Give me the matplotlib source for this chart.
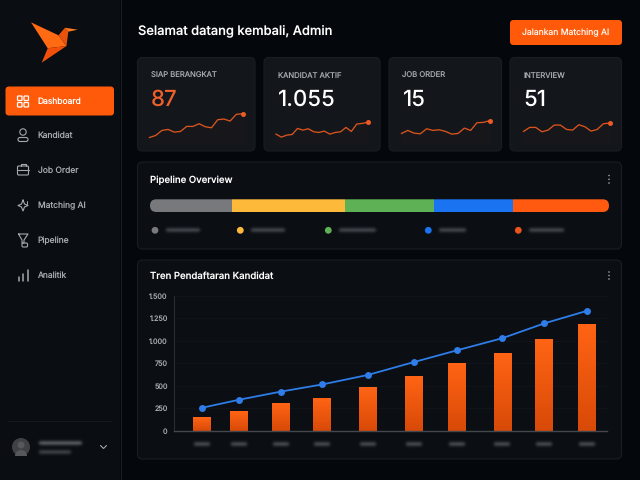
import numpy as np
import matplotlib
matplotlib.use("Agg")
import matplotlib.pyplot as plt
from matplotlib.colors import to_rgb
from matplotlib.patches import FancyBboxPatch, Polygon, Circle, Rectangle, Wedge

plt.rcParams['font.family'] = ['Inter', 'DejaVu Sans']
plt.rcParams['text.hinting'] = 'none'
plt.rcParams['text.hinting_factor'] = 1

# ---- data ----
nav_labels = ["Dashboard", "Kandidat", "Job Order", "Matching AI", "Pipeline", "Analitik"]
kpi_labels = ["SIAP BERANGKAT", "KANDIDAT AKTIF", "JOB ORDER", "INTERVIEW"]
kpi_values = ["87", "1.055", "15", "51"]
spark_1 = [18, 24, 39, 42, 34, 36, 51, 51, 59, 50, 47, 71, 73, 67, 87, 89]
spark_2 = [28, 19, 25, 27, 45, 40, 44, 35, 33, 37, 28, 33, 35, 48, 36, 58, 60, 63]
spark_3 = [30, 39, 31, 29, 44, 39, 41, 36, 28, 30, 46, 39, 62, 63, 68]
spark_4 = [36, 48, 48, 35, 40, 55, 55, 42, 40, 56, 50, 37, 42, 59, 61]
pipeline_shares = [17.8, 24.7, 19.4, 17.2, 20.9]
pipeline_colors = ["#77797d", "#fdb93a", "#5fb155", "#1a74f2", "#ff5a0f"]
month_pos = [0, 0.87, 1.84, 2.81, 3.87, 4.96, 5.96, 7.02, 8.0, 9]
bar_values = [150, 220, 305, 365, 480, 605, 750, 865, 1015, 1185]
line_values = [255, 345, 435, 515, 620, 765, 895, 1030, 1195, 1335]
y_ticks = [0, 250, 500, 750, 1000, 1250, 1500]
y_tick_labels = ["0", "250", "500", "750", "1.000", "1.250", "1.500"]

BG = "#04070b"
SIDE = "#0a0d12"
CARD = "#13161b"
PANEL = "#0b0e13"
EDGE = "#1a1d22"
ORANGE = "#ff5a0a"
W, H = 640, 480

fig = plt.figure(figsize=(6.4, 4.8), dpi=100, facecolor=BG)
bg = fig.add_axes([0, 0, 1, 1], zorder=0)
bg.set_xlim(0, W)
bg.set_ylim(H, 0)
bg.set_autoscale_on(False)
bg.axis("off")


def axes_px(x0, y0, x1, y1, z=2):
    a = fig.add_axes([x0 / W, 1 - y1 / H, (x1 - x0) / W, (y1 - y0) / H], zorder=z)
    a.patch.set_alpha(0)
    return a


def rbox(x0, y0, x1, y1, r, fc, ec="none", lw=0.8, z=1):
    p = FancyBboxPatch((x0 + r, y0 + r), x1 - x0 - 2 * r, y1 - y0 - 2 * r,
                       boxstyle=f"round,pad={r},rounding_size={r}",
                       fc=fc, ec=ec, lw=lw, zorder=z)
    bg.add_patch(p)
    return p


def blur(x0, x1, y, color="#8a8d92", a=0.5, sig=1.8):
    # soft smudge standing in for the blurred-out labels of the reference
    pad = 5
    nx, ny = int((x1 - x0 + 2 * pad) * 2), 28
    xs = np.linspace(x0 - pad, x1 + pad, nx)
    ys = np.linspace(y - 6, y + 6, ny)
    gx = 0.5 * (np.tanh((xs - x0) / sig) - np.tanh((xs - x1) / sig))
    gy = np.exp(-((ys - y) ** 2) / (2 * sig ** 2))
    img = np.zeros((ny, nx, 4))
    img[..., :3] = to_rgb(color)
    img[..., 3] = a * np.outer(gy, gx)
    bg.imshow(img, extent=(x0 - pad, x1 + pad, y + 6, y - 6), origin="upper", aspect="auto",
              zorder=5, interpolation="bilinear")


def ln(xs, ys, c, lw=0.9):
    bg.plot(xs, ys, color=c, lw=lw, solid_capstyle="round", solid_joinstyle="round", zorder=6)


# sidebar
bg.add_patch(Rectangle((0, 0), 120, H, fc=SIDE, ec="none", zorder=1))
bg.plot([120.5, 120.5], [0, H], color="#191c21", lw=0.8, zorder=2)

# logo
bg.add_patch(Polygon([(31, 22.3), (58.5, 35.3), (66.5, 46), (47.7, 48.3)], fc="#ff6a13", ec="none", zorder=3))
bg.add_patch(Polygon([(47.7, 48.3), (66.5, 46), (41.7, 62.7)], fc="#f2500a", ec="none", zorder=3))
bg.add_patch(Polygon([(58.5, 35.3), (65, 27.7), (68.3, 31.7), (66.5, 46)], fc="#e9520c", ec="none", zorder=3))
bg.add_patch(Polygon([(65, 27.7), (77.7, 29.7), (68.3, 31.7)], fc="#ff7a1c", ec="none", zorder=3))

# nav
rbox(5.5, 86.5, 114, 115.5, 3.5, ORANGE, z=2)
nav_y = [101.5, 135.8, 170.5, 206, 240.8, 275.8]
for i, (lab, y) in enumerate(zip(nav_labels, nav_y)):
    bg.text(37.5, y, lab, color="#ffffff" if i == 0 else "#a5a8ae", fontsize=6.1,
            va="center", ha="left", zorder=6)
# dashboard icon
for xx, yy in [(17.5, 96), (24, 96), (17.5, 102.5), (24, 102.5)]:
    rbox(xx, yy, xx + 4.5, yy + 4.5, 0.8, "none", ec="#ffffff", lw=0.9, z=6)
c = "#a5a8ae"
# person
bg.add_patch(Circle((23, 132), 3.2, fc="none", ec=c, lw=0.8, zorder=6))
rbox(18, 137.5, 28, 141.5, 2, "none", ec=c, lw=0.8, z=6)
# briefcase
rbox(17.5, 166, 28.5, 175, 1.2, "none", ec=c, lw=0.8, z=6)
ln([20.5, 20.5, 25.5, 25.5], [166, 163.5, 163.5, 166], c, 0.8)
ln([17.5, 28.5], [170, 170], c, 0.8)
# sparkle
ln([23, 24.5, 28, 24.5, 23, 21.5, 18, 21.5, 23], [200, 204, 205.5, 207, 211, 207, 205.5, 204, 200], c, 0.8)
ln([27, 27], [201, 204], c, 0.7)
# funnel
ln([18.5, 28, 24, 24, 22, 22, 18.5], [234, 234, 240, 243, 243, 240, 234], c, 0.8)
rbox(22, 243, 27.5, 247, 1.2, "none", ec=c, lw=0.8, z=6)
# bars
for xx, y0 in [(18.5, 277), (23, 274), (27.5, 270)]:
    ln([xx, xx], [281, y0], c, 1.1)

# footer
bg.plot([8, 112], [420.5, 420.5], color="#16191e", lw=0.7, zorder=2)
bg.add_patch(Circle((21, 447), 9, fc="#3f4144", ec="none", zorder=3))
bg.add_patch(Circle((21, 445), 3.5, fc="#56585b", ec="none", zorder=4))
bg.add_patch(Wedge((21, 456), 6, 180, 360, fc="#56585b", ec="none", zorder=4))
blur(39, 82, 443.5, "#9a9da2")
blur(39, 71, 452.5, "#6a6d72")
ln([100.5, 103.5, 106.5], [445.5, 448.5, 445.5], "#a0a3a8", 0.8)

# header
bg.text(138, 31, "Selamat datang kembali, Admin", color="#ffffff", fontsize=9.3,
        fontweight="medium", va="center", ha="left", zorder=6)
rbox(510, 20, 622, 45, 3.5, ORANGE, z=2)
bg.text(566, 33, "Jalankan Matching AI", color="#fff4ec", fontsize=6.2, va="center", ha="center", zorder=6)

# KPI cards
cards = [(137.5, 255), (264, 380), (389, 501.5), (510, 621.5)]
spark_span = [(149.5, 242.5), (276, 367.5), (401.5, 489.5), (523.5, 609.5)]
sparks = [spark_1, spark_2, spark_3, spark_4]
for i, ((x0, x1), (sx0, sx1), s) in enumerate(zip(cards, spark_span, sparks)):
    rbox(x0, 57.5, x1, 151, 5, CARD, ec=EDGE, z=2)
    bg.text(x0 + 13.5, 75.8, kpi_labels[i], color="#a5a8ae", fontsize=5.5, va="center", ha="left", zorder=6)
    bg.text(x0 + 13.5, 100, kpi_values[i], color="#f0602a" if i == 0 else "#ffffff", fontsize=16,
            fontweight="medium", va="center", ha="left", zorder=6)
    a = axes_px(sx0, 110, sx1, 143.5)
    a.set_xlim(0, len(s) - 1)
    a.set_ylim(0, 100)
    a.axis("off")
    xs = np.arange(len(s))
    a.fill_between(xs, 0, s, color="#e0561f", alpha=0.02, lw=0)
    a.plot(xs, s, color="#d9541e", lw=0.95, solid_joinstyle="round", clip_on=False)
    a.plot(xs[-1], s[-1], "o", color="#ee5a24", ms=3.6, mew=0, clip_on=False)

# pipeline panel
rbox(137.5, 162, 621.5, 249, 5, PANEL, ec=EDGE, z=2)
bg.text(150, 180, "Pipeline Overview", color="#ffffff", fontsize=6.9, fontweight="medium",
        va="center", ha="left", zorder=6)
for yy in (175.5, 179.3, 183):
    bg.add_patch(Circle((609, yy), 0.8, fc="#a0a3a8", ec="none", zorder=6))
pa = axes_px(150, 199.3, 609, 212)
pa.set_xlim(0, sum(pipeline_shares))
pa.set_ylim(0, 1)
pa.axis("off")
left = 0
clip = FancyBboxPatch((150 + 6.3, 199.3 + 6.3), 459 - 12.6, 0.1,
                      boxstyle="round,pad=6.3,rounding_size=6.3", transform=bg.transData,
                      fc="none", ec="none")
bg.add_patch(clip)
for sh, col in zip(pipeline_shares, pipeline_colors):
    b = pa.barh(0.5, sh, left=left, height=1, color=col, lw=0)
    b[0].set_clip_path(clip)
    left += sh
legend_x = [155, 240.3, 328.3, 428.3, 518.3]
legend_end = [201, 286, 377, 467, 565]
for lx, le, col in zip(legend_x, legend_end, ["#77797d", "#fdb93a", "#5fb155", "#1a74f2", "#e9551c"]):
    bg.add_patch(Circle((lx, 230.3), 3.4, fc=col, ec="none", zorder=6))
    blur(lx + 11, le - 1, 230.5, "#70747a")

# trend panel
rbox(137.5, 260, 621.5, 459, 5, PANEL, ec=EDGE, z=2)
bg.text(150, 276.5, "Tren Pendaftaran Kandidat", color="#ffffff", fontsize=6.9, fontweight="medium",
        va="center", ha="left", zorder=6)
for yy in (272, 275.5, 279):
    bg.add_patch(Circle((609, yy), 0.8, fc="#a0a3a8", ec="none", zorder=6))

ax = axes_px(174, 296, 606.7, 430.7, z=3)
ax.set_xlim(-0.654, 9.46)
ax.set_ylim(0, 1500)
grad = np.linspace(0, 1, 64).reshape(-1, 1)
cm = matplotlib.colors.LinearSegmentedColormap.from_list("o", ["#d84a08", "#ff6414"])
bars = ax.bar(month_pos, bar_values, width=0.41, color="#ff6414", lw=0, zorder=2)
for r in bars:
    x, w, h = r.get_x(), r.get_width(), r.get_height()
    ax.imshow(grad, extent=(x, x + w, 0, h), origin="lower", cmap=cm, aspect="auto", zorder=2.1)
ax.set_xlim(-0.654, 9.46)
ax.set_ylim(0, 1500)
ax.plot(month_pos, line_values, color="#2f7de8", lw=1.3, marker="o", ms=5, mew=0, zorder=4, clip_on=False)
ax.set_yticks(y_ticks)
ax.set_yticklabels(y_tick_labels, color="#a5a8ae", fontsize=5.2)
ax.set_xticks([])
ax.tick_params(axis="y", length=0, pad=4.5)
ax.grid(axis="y", color="#1b1e23", lw=0.6, ls=(0, (1, 1.4)), zorder=0)
for sp in ("top", "right"):
    ax.spines[sp].set_visible(False)
ax.spines["left"].set_color("#2a2d33")
ax.spines["left"].set_linewidth(0.8)
ax.spines["bottom"].set_color("#44474c")
ax.spines["bottom"].set_linewidth(1.0)
for m in month_pos:
    cx = 202 + m * 42.78
    blur(cx - 8, cx + 8, 444, "#7a7d82")

fig.savefig("out.png", dpi=100, facecolor=BG)
